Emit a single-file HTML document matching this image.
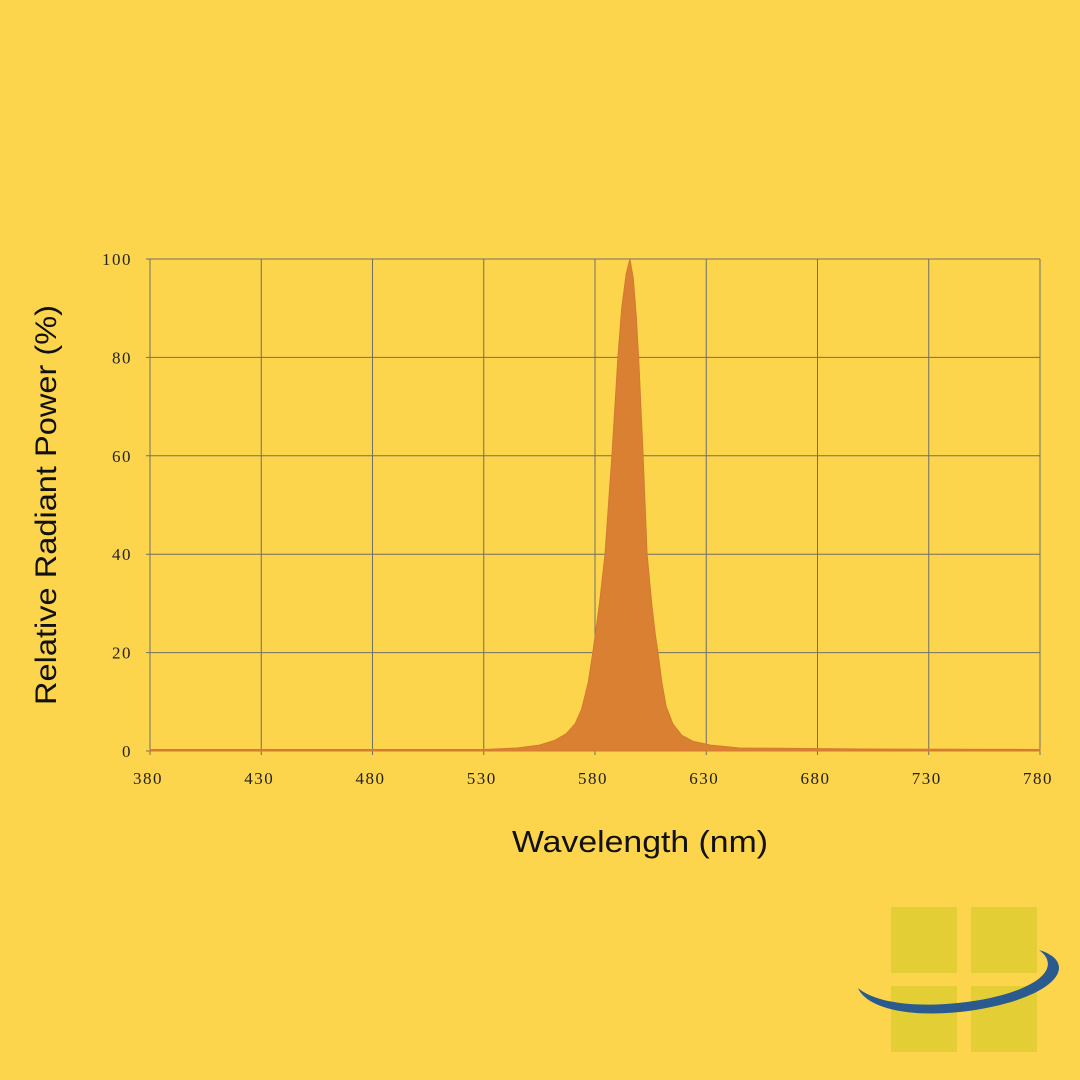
<!DOCTYPE html>
<html><head><meta charset="utf-8"><style>
html,body{margin:0;padding:0;background:#FDD54C;}
svg{display:block}
</style></head><body>
<svg id="chart" width="1080" height="1080" viewBox="0 0 1080 1080" xmlns="http://www.w3.org/2000/svg">
<rect width="1080" height="1080" fill="#FDD54C"/>
<g id="grid"></g>
<path id="area" fill="#D98033" stroke="#D27A30" stroke-width="1"/>
<g id="xt" font-family="Liberation Serif, serif" font-size="17" fill="#222" letter-spacing="1.5" text-anchor="middle"></g>
<g id="yt" font-family="Liberation Serif, serif" font-size="17" fill="#222" letter-spacing="1.5" text-anchor="end"></g>
<text x="640" y="852" text-anchor="middle" font-family="Liberation Sans, sans-serif" font-size="31" fill="#111" textLength="256" lengthAdjust="spacingAndGlyphs">Wavelength (nm)</text>
<text transform="translate(56,505) rotate(-90)" text-anchor="middle" font-family="Liberation Sans, sans-serif" font-size="30" fill="#111" textLength="400" lengthAdjust="spacingAndGlyphs">Relative Radiant Power (%)</text>
<g>
<rect x="891" y="907" width="66" height="66" fill="#E3CE35"/>
<rect x="971" y="907" width="66" height="66" fill="#E3CE35"/>
<rect x="891" y="986" width="66" height="66" fill="#E3CE35"/>
<rect x="971" y="986" width="66" height="66" fill="#E3CE35"/>
<path d="M1039,950 C1080,962 1060,1000 960,1012 C900,1018 865,1005 858,988 C875,1003 920,1010 980,1000 C1045,988 1060,965 1039,950 Z" fill="#2B5A8E"/>
</g>
</svg>
<script>
const xTicks=[380,430,480,530,580,630,680,730,780];
const yTicks=[0,20,40,60,80,100];
const wavelengths=[380,450,530,545,555,562,567,571,574,577,579,582,584.5,587.6,590.3,592,594,595.7,597.2,598.6,599.8,601.6,603.4,605.5,607,608.3,610,612,615,619,624,632,645,700,780];
const power=[0.3,0.3,0.3,0.6,1.2,2.2,3.5,5.5,8.5,14,20,30,40,60,80,90,97,100,96,88,78,60,40,30,24,20,14,9,5.5,3.2,2,1.2,0.6,0.4,0.3];
const X0=150,X1=1040,Y0=751,Y1=259;
const xs=v=>X0+(v-380)/(780-380)*(X1-X0);
const ys=v=>Y0-v/100*(Y0-Y1);
const ns="http://www.w3.org/2000/svg";
const grid=document.getElementById('grid');
function line(x1,y1,x2,y2){const l=document.createElementNS(ns,'line');l.setAttribute('x1',x1);l.setAttribute('y1',y1);l.setAttribute('x2',x2);l.setAttribute('y2',y2);l.setAttribute('stroke','#6f6f66');l.setAttribute('stroke-width','1');


grid.appendChild(l);}
xTicks.forEach(t=>line(xs(t),Y1,xs(t),Y0+4));
yTicks.forEach(t=>line(X0-4,ys(t),X1,ys(t)));
const xt=document.getElementById('xt');
xTicks.forEach(t=>{const e=document.createElementNS(ns,'text');e.setAttribute('x',xs(t)-2);e.setAttribute('y',Y0+33);e.textContent=t;


xt.appendChild(e);});
const yt=document.getElementById('yt');
yTicks.forEach(t=>{const e=document.createElementNS(ns,'text');e.setAttribute('x',X0-18);e.setAttribute('y',ys(t)+6);e.textContent=t;


yt.appendChild(e);});
let d='M'+xs(wavelengths[0])+','+ys(0);
wavelengths.forEach((w,i)=>{d+=' L'+xs(w).toFixed(1)+','+ys(power[i]).toFixed(1);});
d+=' L'+xs(wavelengths[wavelengths.length-1])+','+ys(0)+' Z';
document.getElementById('area').setAttribute('d',d);
</script>
</body></html>
